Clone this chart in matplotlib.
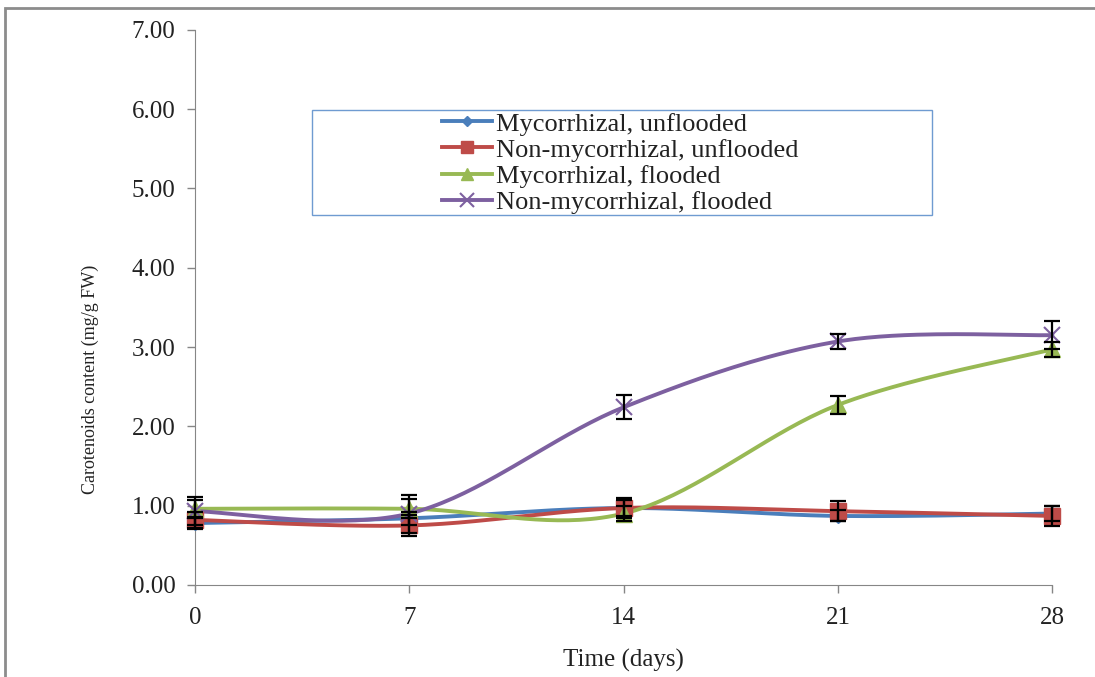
import numpy as np
import matplotlib
matplotlib.use("Agg")
import matplotlib.pyplot as plt
from matplotlib.lines import Line2D
from matplotlib.patches import Rectangle

days = [0, 7, 14, 21, 28]
labels = ["Mycorrhizal, unflooded", "Non-mycorrhizal, unflooded",
          "Mycorrhizal, flooded", "Non-mycorrhizal, flooded"]
myc_unfl = [0.78, 0.84, 0.97, 0.87, 0.90]
nonmyc_unfl = [0.82, 0.75, 0.97, 0.93, 0.87]
myc_fl = [0.96, 0.96, 0.90, 2.27, 2.97]
nonmyc_fl = [0.93, 0.90, 2.24, 3.07, 3.15]
err_myc_unfl = [0.08, 0.08, 0.10, 0.07, 0.10]
err_nonmyc_unfl = [0.10, 0.13, 0.12, 0.13, 0.13]
err_myc_fl = [0.11, 0.12, 0.10, 0.11, 0.09]
err_nonmyc_fl = [0.18, 0.24, 0.15, 0.09, 0.18]

colors = ["#4A7EBB", "#BE4B48", "#98B954", "#7D60A0"]
markers = ["D", "s", "^", "x"]
msizes = [7, 11, 11, 12]

plt.rcParams['font.family'] = ['Liberation Serif', 'DejaVu Serif']

def smooth(x, y, n=40):
    x = np.asarray(x, float); y = np.asarray(y, float)
    px = np.concatenate([[x[0]], x, [x[-1]]])
    py = np.concatenate([[y[0]], y, [y[-1]]])
    xs, ys = [], []
    t = np.linspace(0, 1, n)
    for i in range(1, len(px) - 2):
        p0 = np.array([px[i], py[i]]); p3 = np.array([px[i + 1], py[i + 1]])
        c1 = p0 + (np.array([px[i + 1], py[i + 1]]) - np.array([px[i - 1], py[i - 1]])) / 6
        c2 = p3 - (np.array([px[i + 2], py[i + 2]]) - np.array([px[i], py[i]])) / 6
        b = ((1 - t) ** 3)[:, None] * p0 + (3 * (1 - t) ** 2 * t)[:, None] * c1 \
            + (3 * (1 - t) * t ** 2)[:, None] * c2 + (t ** 3)[:, None] * p3
        xs.extend(b[:, 0]); ys.extend(b[:, 1])
    return np.array(xs), np.array(ys)

fig = plt.figure(figsize=(10.95, 6.77), dpi=100)
fig.patches.append(Rectangle((0.005, -0.01), 1.2, 0.998, transform=fig.transFigure,
                             fill=False, edgecolor="#8C8C8C", linewidth=2.0))
ax = fig.add_axes([0.178, 0.136, 0.783, 0.820])

series = [myc_unfl, nonmyc_unfl, myc_fl, nonmyc_fl]
errs = [err_myc_unfl, err_nonmyc_unfl, err_myc_fl, err_nonmyc_fl]
for s, e, c, m, ms in zip(series, errs, colors, markers, msizes):
    sx, sy = smooth(days, s)
    ax.plot(sx, sy, color=c, lw=2.8, zorder=2, clip_on=False)
    ax.plot(days, s, linestyle="none", marker=m, color=c, ms=ms,
            mew=1.5 if m == "x" else 1, zorder=3, clip_on=False)
    ax.errorbar(days, s, yerr=e, fmt="none", ecolor="black", elinewidth=1.6,
                capsize=6, capthick=1.6, zorder=4, clip_on=False)

ax.set_xlim(0, 28)
ax.set_ylim(0, 7)
ax.set_xticks(days)
ax.set_yticks(np.arange(0, 7.01, 1))
ax.set_yticklabels([f"{v:.2f}" for v in np.arange(0, 7.01, 1)])
ax.tick_params(axis="both", direction="out", colors="#868686", labelcolor="#222222",
               length=6, width=1)
ax.tick_params(axis="x", pad=10, labelsize=18)
ax.tick_params(axis="y", pad=8, labelsize=18)
for sp in ["top", "right"]:
    ax.spines[sp].set_visible(False)
for sp in ["left", "bottom"]:
    ax.spines[sp].set_color("#868686")
ax.set_xlabel("Time (days)", fontsize=18, labelpad=14, color="#222222")
ax.set_ylabel("Carotenoids content (mg/g FW)", fontsize=13, color="#222222")
ax.yaxis.set_label_coords(-0.112, 0.37)

# legend frame
fig.patches.append(Rectangle((312 / 1095, 1 - 215 / 677), 620 / 1095, 105 / 677,
                             transform=fig.transFigure, fill=True, facecolor="white",
                             edgecolor="#6F9BD1", linewidth=1.0, zorder=5))
handles = [Line2D([0], [0], color=c, lw=2.8, marker=m, ms=ms * 0.8, mew=1.5 if m == "x" else 1)
           for c, m, ms in zip(colors, markers, msizes)]
leg = fig.legend(handles, labels, loc="center", bbox_to_anchor=(620 / 1095, 1 - 163 / 677),
                 fontsize=19, frameon=False, handlelength=1.9, handletextpad=0.15,
                 labelspacing=0.1, borderpad=0.0)
for t in leg.get_texts():
    t.set_color("#222222")
leg.set_zorder(6)

fig.savefig("out.png", dpi=100)
